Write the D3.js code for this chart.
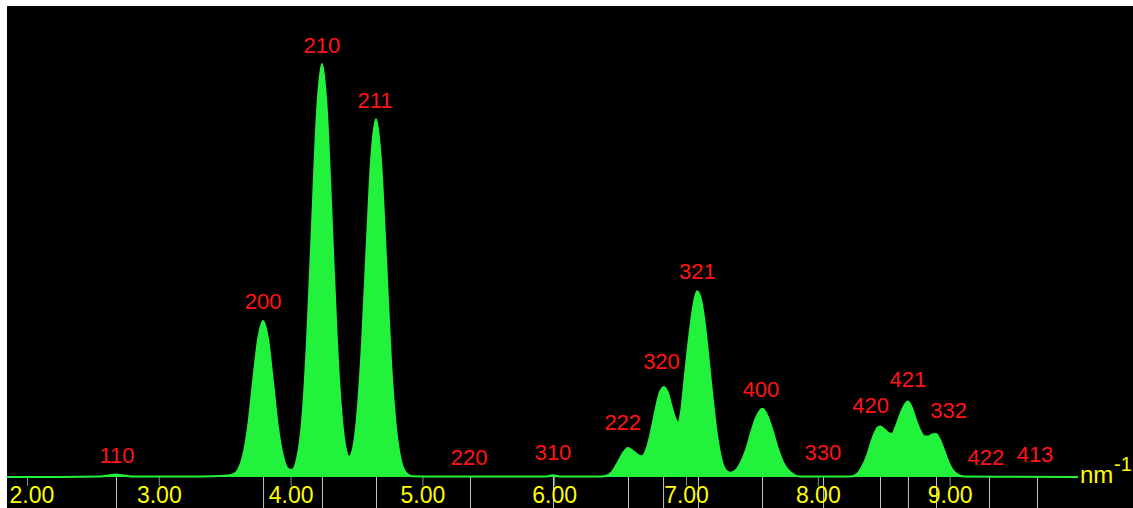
<!DOCTYPE html>
<html><head><meta charset="utf-8">
<script src="https://cdn.jsdelivr.net/npm/d3@7"></script>
<style>html,body{margin:0;padding:0;background:#fff;overflow:hidden}</style>
</head><body>
<svg id="c" width="1133" height="508"></svg>
<script>
// Diffraction profile (q in nm^-1, intensity in % of the 210 peak)
const profileX = [1.848,2.250,2.554,2.630,2.675,2.721,2.797,3.313,3.502,3.563,3.601,3.639,3.677,3.715,3.753,3.791,3.829,3.866,3.904,3.942,3.980,4.011,4.049,4.087,4.124,4.162,4.200,4.238,4.276,4.314,4.352,4.390,4.420,4.443,4.466,4.504,4.542,4.580,4.610,4.648,4.686,4.724,4.762,4.800,4.838,4.876,4.921,5.134,5.930,5.991,6.052,6.348,6.385,6.438,6.484,6.522,6.560,6.598,6.636,6.666,6.697,6.727,6.765,6.795,6.833,6.863,6.894,6.924,6.939,6.962,6.992,7.023,7.053,7.083,7.114,7.144,7.174,7.205,7.235,7.266,7.296,7.334,7.379,7.417,7.455,7.493,7.531,7.580,7.622,7.660,7.698,7.736,7.774,7.820,7.865,8.244,8.297,8.335,8.373,8.411,8.442,8.472,8.503,8.533,8.563,8.593,8.624,8.654,8.684,8.715,8.745,8.775,8.806,8.836,8.866,8.897,8.927,8.958,8.988,9.018,9.056,9.117,9.974];
const profileI = [0,0,0.1,0.4,0.6,0.4,0.1,0.1,0.3,0.6,1.7,5.1,12.1,23.1,33.3,37.8,33.3,23.1,12.1,5.1,2.0,1.7,4.5,13.5,32.5,60.7,88.2,100,88.2,60.7,32.5,13.8,6.6,4.9,6.0,14.4,32.5,57.8,76.3,86.7,76.3,52.9,27.7,11.7,3.8,1.0,0.2,0.1,0.1,0.4,0.1,0.1,0.24,1.2,3.6,5.8,7.0,6.3,5.3,5.0,6.5,9.9,15.7,19.9,21.8,20.3,16.7,13.8,13.1,15.7,24.7,33.7,40.9,45.0,42.9,36.8,27.8,18.2,10.2,4.6,1.9,1.0,1.7,3.6,6.5,10.7,14.3,16.5,14.5,10.9,6.8,3.6,1.7,0.5,0.1,0.1,0.7,2.4,5.1,9.0,11.4,12.2,11.6,10.7,10.4,12.3,15.0,17.2,18.3,16.7,13.8,11.4,9.9,9.8,10.3,10.4,9.0,6.5,3.9,1.9,0.7,0.1,0];

// Reflections (hkl) and their positions (nm^-1)
const hkl    = ["110","200","210","211","220","310","222","320","321","400","330","420","421","332","422","413"];
const hklPos = [2.675,3.791,4.238,4.648,5.361,5.991,6.560,6.826,7.091,7.577,8.040,8.472,8.684,8.897,9.299,9.663];
// Label anchor points (q, intensity)
const labelX = [2.683,3.791,4.238,4.640,5.354,5.991,6.520,6.814,7.087,7.569,8.039,8.400,8.684,8.992,9.276,9.648];
const labelI = [5.3,42.6,104.6,91.3,4.8,6.1,13.4,28.0,49.8,21.4,6.1,17.4,23.8,16.2,4.9,5.6];

const axisTicks = [2,3,4,5,6,7,8,9];
const unitText = "nm";
const unitSup = "-1";

const W = 1133, H = 508;
const svg = d3.select("#c");
const x = d3.scaleLinear().domain([2, 9]).range([27, 949.6]);
const y = d3.scaleLinear().domain([0, 100]).range([477, 64]);
const GREEN = "#22f23c";

svg.append("rect").attr("x", 7).attr("y", 6).attr("width", W - 7).attr("height", H - 6).attr("fill", "#000");

// reflection markers below baseline
const refAxis = d3.axisBottom(x).tickValues(hklPos).tickSize(32).tickFormat("");
svg.append("g").attr("transform", `translate(0,${y(0)})`).call(refAxis)
  .call(g => { g.select(".domain").remove(); g.selectAll("line").attr("stroke", "#c4c4c4").attr("stroke-width", 1); });

// main axis
const xAxis = d3.axisBottom(x).tickValues(axisTicks).tickFormat(d3.format(".2f")).tickSize(9).tickPadding(0.5);
const ax = svg.append("g").attr("transform", `translate(0,${y(0)})`).call(xAxis);
ax.select(".domain").remove();
ax.selectAll("line").attr("stroke", "#6f9a86").attr("stroke-width", 1);
ax.selectAll("text").attr("fill", "#ffff00").attr("font-family", "Liberation Sans, Arial, sans-serif").attr("font-size", 23);
ax.selectAll("text").each(function (d) {
  const b = this.getBBox();
  const left = x(d) + b.x;
  if (left < 9) d3.select(this).attr("x", 9 - left);
});

// profile
const pts = profileX.map((v, i) => [v, profileI[i]]);
const area = d3.area().x(d => x(d[0])).y0(y(0)).y1(d => y(d[1])).curve(d3.curveMonotoneX);
const line = d3.line().x(d => x(d[0])).y(d => y(d[1])).curve(d3.curveMonotoneX);
svg.append("path").datum(pts).attr("d", area).attr("fill", GREEN);
svg.append("path").datum(pts).attr("d", line).attr("fill", "none").attr("stroke", GREEN).attr("stroke-width", 2);

// hkl labels
svg.append("g").selectAll("text").data(hkl).join("text")
  .attr("x", (d, i) => x(labelX[i]))
  .attr("y", (d, i) => y(labelI[i]))
  .attr("dy", "0.36em")
  .attr("text-anchor", "middle")
  .attr("fill", "#ff1414")
  .attr("font-family", "Liberation Sans, Arial, sans-serif")
  .attr("font-size", 22)
  .text(d => d);

// unit
const xEnd = x(profileX[profileX.length - 1]);
svg.append("text").attr("x", xEnd + 2).attr("y", 483).attr("fill", "#ffff00")
  .attr("font-family", "Liberation Sans, Arial, sans-serif").attr("font-size", 24).text(unitText);
svg.append("text").attr("x", xEnd + 36).attr("y", 471).attr("fill", "#ffff00")
  .attr("font-family", "Liberation Sans, Arial, sans-serif").attr("font-size", 20).text(unitSup);
</script>
</body></html>
